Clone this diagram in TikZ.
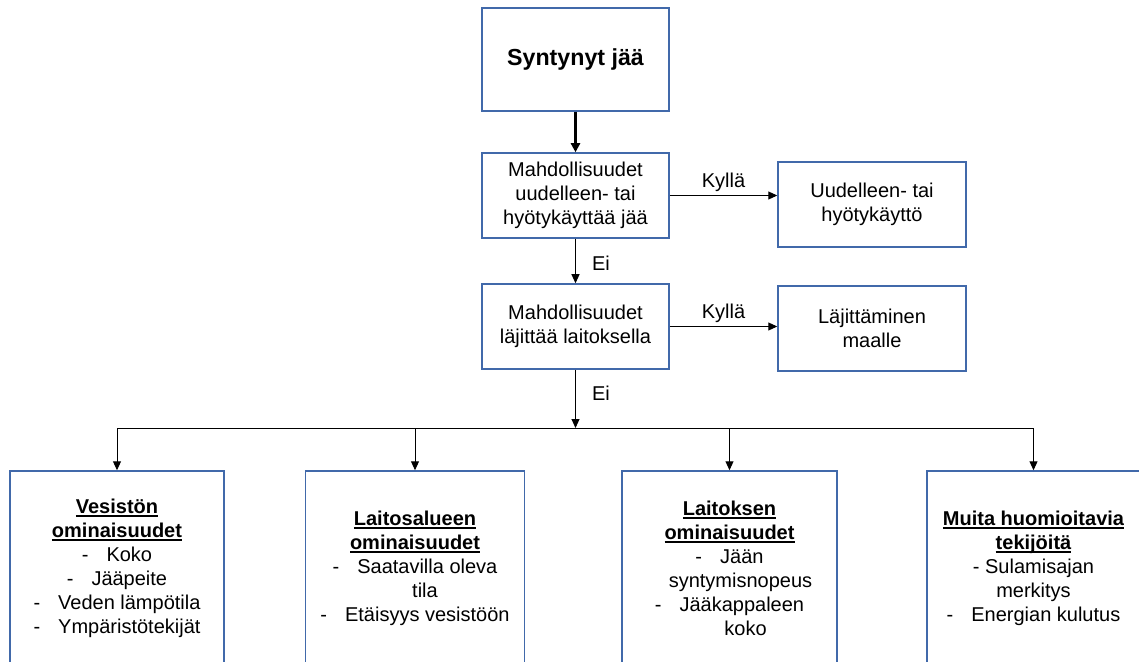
\documentclass[tikz,border=0pt]{standalone}
\usepackage{fontspec}
\setmainfont{Liberation Sans}
\usetikzlibrary{arrows.meta}
\definecolor{boxblue}{RGB}{65,105,170}
% bold heading with a word-processor style underline
\newcommand{\hd}[1]{\textbf{\setbox0\hbox{#1}\rlap{\rule[-1.9pt]{\wd0}{0.8pt}}\box0}}
\newcommand{\itm}[1]{-\hspace{0.9em}#1}
\begin{document}
\begin{tikzpicture}[x=0.5pt,y=-0.5pt,
  font=\fontsize{10}{12}\selectfont,
  box/.style={draw=boxblue, line width=0.75pt, align=center, inner sep=0pt},
  midbox/.style={box, minimum width=93.5pt, minimum height=42.5pt},
  sidebox/.style={box, minimum width=94pt, minimum height=42.5pt},
  lowbox/.style={box, minimum height=97pt},
  arr/.style={-{Triangle[length=4.5pt,width=4pt]}, line width=0.5pt},
  thickarr/.style={-{Triangle[length=4.5pt,width=4.5pt]}, line width=1.25pt},
  lbl/.style={inner sep=0pt}]
\useasboundingbox (0,0) rectangle (1139,662);

% decision chain
\node[box, minimum width=93.5pt, minimum height=51.5pt,
      font=\fontsize{11.6}{14}\selectfont\bfseries] (top) at (575.5,59.5) {Syntynyt jää};
\node[midbox] (q1) at (575.5,195.5) {Mahdollisuudet\\uudelleen- tai\\hyötykäyttää jää};
\node[sidebox] (r1) at (872,204.5) {Uudelleen- tai\\hyötykäyttö};
\node[midbox] (q2) at (575.5,326.5) {Mahdollisuudet\\läjittää laitoksella};
\node[sidebox] (r2) at (872,328.5) {Läjittäminen\\maalle};

% factor boxes
\node[lowbox, minimum width=107pt] (A) at (117,568)
  {\hd{Vesistön}\\\hd{ominaisuudet}\\\itm{Koko}\\\itm{Jääpeite}\\\itm{Veden lämpötila}\\\itm{Ympäristötekijät}};
\node[lowbox, minimum width=109.5pt] (B) at (415,568)
  {\hd{Laitosalueen}\\\hd{ominaisuudet}\\\itm{Saatavilla oleva}\\\hspace*{1em}tila\\\itm{Etäisyys vesistöön}};
\node[lowbox, minimum width=107.5pt] (C) at (729.5,568)
  {\hd{Laitoksen}\\\hd{ominaisuudet}\\\itm{Jään}\\\hspace*{1.1em}syntymisnopeus\\\itm{Jääkappaleen}\\\hspace*{1.6em}koko};
\node[lowbox, minimum width=106.5pt] (D) at (1033.5,568)
  {\hd{Muita huomioitavia}\\\hd{tekijöitä}\\- Sulamisajan\\merkitys\\\itm{Energian kulutus}};

% connectors
\draw[thickarr] (top) -- (q1);
\draw[arr] (q1.east) -- node[lbl, midway, yshift=6.5pt] {Kyllä} (q1.east -| r1.west);
\draw[arr] (q1) -- node[lbl, pos=0.55, anchor=west, xshift=8pt] {Ei} (q2);
\draw[arr] (q2.east) -- node[lbl, midway, yshift=6.5pt] {Kyllä} (q2.east -| r2.west);

\coordinate (bus) at (575.5,428);
\coordinate (busA) at (A |- bus);
\coordinate (busB) at (B |- bus);
\coordinate (busC) at (C |- bus);
\coordinate (busD) at (D |- bus);
\draw[arr] (q2) -- node[lbl, pos=0.4, anchor=west, xshift=8pt] {Ei} (bus);
\draw[line width=0.5pt] (busA) -- (busD);
\draw[arr] (busA) -- (A);
\draw[arr] (busB) -- (B);
\draw[arr] (busC) -- (C);
\draw[arr] (busD) -- (D);
\end{tikzpicture}
\end{document}
